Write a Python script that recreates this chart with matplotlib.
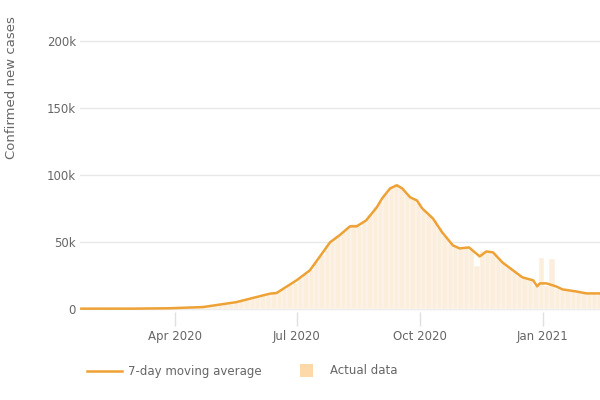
import matplotlib
matplotlib.use("Agg")
import matplotlib.pyplot as plt
import pandas as pd
from matplotlib.lines import Line2D
from matplotlib.patches import Rectangle

# 7-day moving average
avg_dates = ["2020-01-22", "2020-03-01", "2020-03-28", "2020-04-22", "2020-05-17",
             "2020-06-11", "2020-06-16", "2020-07-01", "2020-07-11", "2020-07-18",
             "2020-07-26", "2020-08-02", "2020-08-10", "2020-08-15", "2020-08-22",
             "2020-08-30", "2020-09-03", "2020-09-09", "2020-09-14", "2020-09-18",
             "2020-09-24", "2020-09-29", "2020-10-03", "2020-10-11", "2020-10-18",
             "2020-10-26", "2020-10-31", "2020-11-07", "2020-11-15", "2020-11-20",
             "2020-11-25", "2020-12-02", "2020-12-10", "2020-12-17", "2020-12-25",
             "2020-12-28", "2020-12-30", "2021-01-04", "2021-01-11", "2021-01-16",
             "2021-01-26", "2021-02-03", "2021-02-13"]
avg_values = [0, 20, 300, 1200, 4900,
              11200, 11700, 21200, 28700, 38400,
              49600, 54800, 61600, 61600, 66000,
              75800, 82500, 90000, 92300, 90000,
              83300, 81000, 75000, 67500, 57000,
              47300, 45100, 45800, 39100, 42800,
              42100, 34600, 28600, 23400, 21200,
              16700, 18900, 18900, 16700, 14400,
              12900, 11400, 11400]

# Actual data (4-day sampling)
actual_start = "2020-01-22"
actual_values = [0, 0, 0, 0, 0, 0, 0, 0, 0, 0,
                 0, 10, 10, 20, 30, 80, 90, 200, 500, 600,
                 900, 1000, 1300, 1400, 1600, 2000, 3000, 3300, 3600, 4900,
                 5600, 6700, 7400, 8200, 9800, 10500, 11400, 13000, 15000, 18000,
                 19500, 23000, 26000, 29000, 35000, 40000, 47000, 51000, 54000, 57000,
                 61000, 63000, 62000, 65000, 70000, 76000, 80000, 86000, 91000, 93000,
                 90000, 86000, 82000, 79000, 74000, 70000, 66000, 60000, 54000, 49000,
                 46000, 45000, 46000, 44000, 32000, 43000, 43000, 41000, 38000, 34000,
                 31000, 28000, 25000, 23000, 22000, 17000, 38000, 17000, 37000, 15000,
                 14000, 13500, 13000, 12500, 11500, 11500, 11000, 11500]

y_ticks = [0, 50000, 100000, 150000, 200000]
y_tick_labels = ["0", "50k", "100k", "150k", "200k"]
x_ticks = ["2020-04-01", "2020-07-01", "2020-10-01", "2021-01-01"]
x_tick_labels = ["Apr 2020", "Jul 2020", "Oct 2020", "Jan 2021"]
legend_labels = ["7-day moving average", "Actual data"]

line_color = "#eea236"
bar_color = "#fbeedd"
legend_patch_color = "#fdd9aa"
text_color = "#666666"

fig = plt.figure(figsize=(6, 4), dpi=100)
ax = fig.add_axes([80/600, 1-312/400, 1-80/600, (312-28)/400])

a_dates = pd.date_range(actual_start, periods=len(actual_values), freq="4D")
ax.bar(a_dates, actual_values, width=4, color=bar_color, edgecolor="white",
       linewidth=0.3, align="center", zorder=1)
ax.plot(pd.to_datetime(avg_dates), avg_values, color=line_color, lw=1.8,
        solid_joinstyle="round", zorder=3)

ax.set_xlim(pd.Timestamp("2020-01-21"), pd.Timestamp("2021-02-13"))
ax.set_ylim(-2500, 210000)
ax.set_yticks(y_ticks)
ax.set_yticklabels(y_tick_labels)
ax.set_xticks(pd.to_datetime(x_ticks))
ax.set_xticklabels(x_tick_labels)
ax.grid(axis="y", color="#e8e8e8", lw=1, zorder=0)
ax.set_axisbelow(True)
for s in ax.spines.values():
    s.set_visible(False)
ax.tick_params(axis="y", length=0, pad=3, labelsize=8.5, labelcolor=text_color)
ax.tick_params(axis="x", length=10, width=1, color="#e0e0e0", pad=3,
               labelsize=8.5, labelcolor=text_color)

fig.text(12/600, 1-88/400, "Confirmed new cases", rotation=90, ha="center",
         va="center", fontsize=9.5, color=text_color)

# legend drawn in figure coordinates
ly = 1 - 371/400
fig.add_artist(Line2D([87/600, 122/600], [ly, ly], color=line_color, lw=1.8,
                      transform=fig.transFigure))
fig.text(128/600, ly, legend_labels[0], ha="left", va="center",
         fontsize=8.5, color=text_color)
fig.add_artist(Rectangle((300/600, 1-377/400), 13/600, 13/400,
                         facecolor=legend_patch_color, edgecolor="none",
                         transform=fig.transFigure))
fig.text(330/600, ly, legend_labels[1], ha="left", va="center",
         fontsize=8.5, color=text_color)

fig.savefig("out.png", dpi=100)
